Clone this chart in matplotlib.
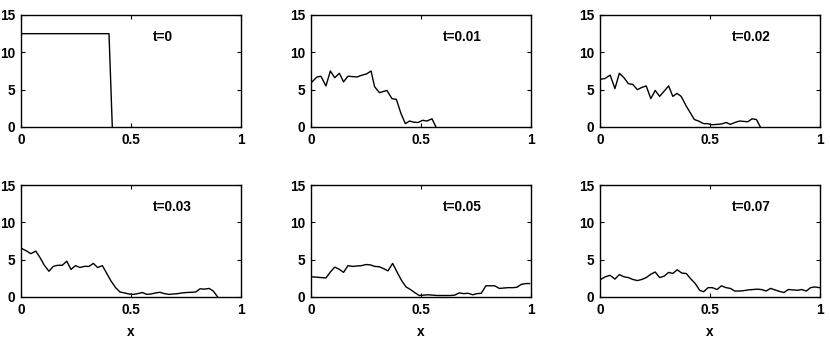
import matplotlib
matplotlib.use("Agg")
import matplotlib.pyplot as plt

plt.rcParams["font.family"] = ["Liberation Sans", "DejaVu Sans"]
plt.rcParams["font.weight"] = "bold"

# Snapshots of the profile at different times
titles = ["t=0", "t=0.01", "t=0.02", "t=0.03", "t=0.05", "t=0.07"]

x_t0 = [0.005, 0.40, 0.415]
y_t0 = [12.5, 12.5, 0.0]

x_t01 = [0.005, 0.027, 0.045, 0.068, 0.088, 0.108, 0.129, 0.148, 0.168, 0.209,
         0.232, 0.252, 0.273, 0.289, 0.311, 0.345, 0.368, 0.388, 0.409, 0.429,
         0.448, 0.467, 0.486, 0.508, 0.527, 0.55, 0.568]
y_t01 = [6.05, 6.7, 6.8, 5.5, 7.5, 6.6, 7.2, 6.05, 6.8, 6.7,
         6.95, 7.1, 7.5, 5.4, 4.6, 4.9, 3.8, 3.7, 1.8, 0.45,
         0.8, 0.65, 0.6, 0.9, 0.8, 1.1, 0.0]

x_t02 = [0.003, 0.023, 0.046, 0.068, 0.088, 0.109, 0.129, 0.149, 0.17, 0.19,
         0.21, 0.231, 0.251, 0.271, 0.312, 0.331, 0.35, 0.369, 0.392, 0.429,
         0.448, 0.471, 0.489, 0.509, 0.532, 0.552, 0.573, 0.593, 0.613, 0.634,
         0.653, 0.672, 0.691, 0.711, 0.729]
y_t02 = [6.4, 6.5, 6.95, 5.15, 7.2, 6.6, 5.8, 5.7, 5.0, 5.3,
         5.5, 3.8, 4.9, 4.1, 5.5, 4.1, 4.5, 4.1, 2.8, 1.0,
         0.8, 0.45, 0.45, 0.3, 0.35, 0.4, 0.6, 0.35, 0.6, 0.8,
         0.75, 0.7, 1.1, 1.0, 0.0]

x_t03 = [0.003, 0.026, 0.045, 0.067, 0.086, 0.106, 0.127, 0.147, 0.167, 0.188,
         0.208, 0.227, 0.248, 0.268, 0.288, 0.309, 0.329, 0.348, 0.37, 0.389,
         0.409, 0.43, 0.45, 0.47, 0.491, 0.511, 0.53, 0.552, 0.571, 0.591,
         0.612, 0.632, 0.652, 0.673, 0.692, 0.712, 0.733, 0.753, 0.773, 0.794,
         0.814, 0.833, 0.855, 0.874, 0.894]
y_t03 = [6.5, 6.15, 5.8, 6.15, 5.3, 4.25, 3.45, 4.1, 4.25, 4.25,
         4.8, 3.7, 4.2, 3.95, 4.1, 4.1, 4.5, 3.95, 4.2, 3.2,
         2.15, 1.25, 0.67, 0.55, 0.4, 0.35, 0.45, 0.6, 0.35, 0.4,
         0.55, 0.63, 0.45, 0.35, 0.4, 0.45, 0.55, 0.6, 0.63, 0.67,
         1.1, 1.05, 1.15, 0.8, 0.0]

x_t05 = [0.005, 0.027, 0.047, 0.068, 0.088, 0.108, 0.129, 0.148, 0.168, 0.189,
         0.209, 0.229, 0.25, 0.27, 0.289, 0.311, 0.33, 0.35, 0.371, 0.391,
         0.411, 0.432, 0.452, 0.471, 0.492, 0.512, 0.532, 0.553, 0.573, 0.592,
         0.614, 0.633, 0.653, 0.674, 0.694, 0.714, 0.735, 0.755, 0.774, 0.795,
         0.815, 0.835, 0.856, 0.876, 0.895, 0.917, 0.936, 0.956, 0.977, 0.994]
y_t05 = [2.7, 2.65, 2.6, 2.55, 3.35, 4.0, 3.7, 3.3, 4.2, 4.1,
         4.15, 4.2, 4.35, 4.3, 4.1, 4.05, 3.8, 3.5, 4.5, 3.35,
         2.25, 1.35, 1.0, 0.6, 0.2, 0.25, 0.3, 0.25, 0.2, 0.2,
         0.2, 0.2, 0.25, 0.55, 0.45, 0.5, 0.3, 0.45, 0.5, 1.5,
         1.5, 1.5, 1.15, 1.2, 1.25, 1.25, 1.3, 1.7, 1.8, 1.8]

x_t07 = [0.003, 0.023, 0.046, 0.068, 0.088, 0.109, 0.129, 0.149, 0.17, 0.19,
         0.21, 0.231, 0.251, 0.271, 0.292, 0.312, 0.331, 0.351, 0.372, 0.392,
         0.412, 0.433, 0.453, 0.471, 0.491, 0.511, 0.532, 0.552, 0.573, 0.593,
         0.612, 0.634, 0.653, 0.673, 0.695, 0.714, 0.734, 0.755, 0.775, 0.795,
         0.816, 0.836, 0.856, 0.877, 0.897, 0.916, 0.938, 0.957, 0.977, 0.997]
y_t07 = [2.35, 2.7, 2.9, 2.4, 3.0, 2.7, 2.6, 2.35, 2.2, 2.35,
         2.6, 3.05, 3.35, 2.6, 2.8, 3.3, 3.15, 3.65, 3.2, 3.15,
         2.45, 1.8, 0.9, 0.7, 1.25, 1.25, 1.0, 1.5, 1.25, 1.15,
         0.8, 0.8, 0.85, 0.95, 1.0, 1.05, 1.0, 0.8, 1.15, 0.95,
         0.75, 0.6, 1.0, 0.95, 0.9, 1.0, 0.8, 1.25, 1.35, 1.25]

xs = [x_t0, x_t01, x_t02, x_t03, x_t05, x_t07]
ys = [y_t0, y_t01, y_t02, y_t03, y_t05, y_t07]

fig = plt.figure(figsize=(8.3, 3.42), dpi=100)

lefts = [21, 311, 600]
tops = [15, 185]
w_px, h_px = 220, 112
fs = 9.8

for i in range(6):
    row, col = divmod(i, 3)
    left = lefts[col] / 830
    bottom = 1 - (tops[row] + h_px) / 342
    ax = fig.add_axes([left, bottom, w_px / 830, h_px / 342])
    ax.plot(xs[i], ys[i], color="black", linewidth=1.0)
    ax.set_xlim(0, 1)
    ax.set_ylim(0, 15)
    ax.set_xticks([0, 0.5, 1])
    ax.set_xticklabels(["0", "0.5", "1"])
    ax.set_yticks([0, 5, 10, 15])
    ax.tick_params(direction="in", length=3, width=0.8, top=True, right=True,
                   labelsize=fs, pad=4)
    for lab in ax.get_xticklabels() + ax.get_yticklabels():
        lab.set_fontweight("bold")
    for sp in ax.spines.values():
        sp.set_linewidth(1.0)
    ax.text(0.6, 12.1, titles[i], fontsize=fs, fontweight="bold",
            ha="left", va="center")
    if row == 1:
        ax.set_xlabel("x", fontsize=fs, fontweight="bold", labelpad=6)

fig.savefig("out.png", dpi=100)
